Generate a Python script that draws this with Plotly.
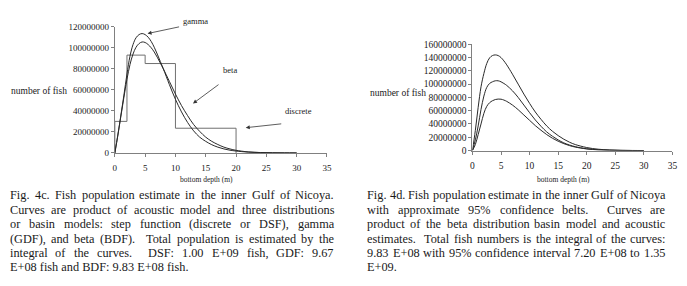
import plotly.graph_objects as go

# ---------------- data ----------------
# Fig 4c: discrete step function (depth bin edges, fish numbers per bin)
step_edges = [0, 2, 5, 10, 20]
step_values = [30e6, 93e6, 85e6, 23.5e6]

depth_c = [0, 0.5, 1, 1.5, 2, 2.5, 3, 3.5, 4, 4.5, 5, 5.5, 6, 6.5, 7, 7.5, 8,
           9, 10, 11, 12, 13, 14, 15, 16, 17, 18, 19, 20, 22, 24, 26, 28, 30]
gamma_vals = [0, 17, 36, 55, 75, 92, 103, 109.5, 112.5, 113.5, 112.5, 110, 106, 100.5, 94, 87, 80,
              65, 51, 39, 29, 21, 15, 11, 7.8, 5.5, 3.8, 2.6, 1.8, 0.8, 0.35, 0.15, 0.05, 0]
beta_vals = [0, 17, 35, 53, 70, 84, 94, 100.5, 104, 105.5, 105, 103, 100, 96, 91, 85.5, 80,
             68, 56, 45, 35.5, 27, 20.5, 15, 11, 8, 5.5, 3.8, 2.5, 1.0, 0.4, 0.12, 0.03, 0]

# Fig 4d: beta model with approximate 95% confidence belts
depth_d = [0, 0.5, 1, 1.5, 2, 2.5, 3, 3.5, 4, 4.5, 5, 5.5, 6, 7, 8, 9, 10, 11, 12, 13,
           14, 15, 16, 17, 18, 20, 22, 24, 26, 28, 30]
upper_vals = [0, 30, 65, 96, 116, 131, 139.5, 143, 144, 143, 140, 135, 129, 115, 100, 85, 71, 58, 47, 37,
              29, 22.5, 17, 12.5, 9, 4.5, 2, 0.8, 0.3, 0.1, 0]
mid_vals = [0, 16, 37, 62, 82, 95, 101, 103.5, 105, 105, 103.5, 101, 98, 90, 80, 68.5, 57, 46, 36.5, 28,
            21.5, 16, 11.5, 8.3, 5.8, 2.7, 1.1, 0.4, 0.12, 0.03, 0]
lower_vals = [0, 9, 24, 40, 56, 66.5, 72, 75, 76.8, 77.5, 77.3, 76, 74, 68.5, 61.5, 53.5, 45.5, 37.5, 30.5, 24,
              18.5, 14, 10.3, 7.4, 5.2, 2.4, 1.0, 0.4, 0.12, 0.03, 0]

x_ticks = [0, 5, 10, 15, 20, 25, 30, 35]
y_ticks_c = [0, 20e6, 40e6, 60e6, 80e6, 100e6, 120e6]
y_ticks_d = [0, 20e6, 40e6, 60e6, 80e6, 100e6, 120e6, 140e6, 160e6]

caption_c = [
    "Fig. 4c. Fish population estimate in the inner Gulf of Nicoya.",
    "Curves are product of acoustic model and three distributions",
    "or basin models: step function (discrete or DSF), gamma",
    "(GDF), and beta (BDF).  Total population is estimated by the",
    "integral of the curves.  DSF: 1.00 E+09 fish, GDF: 9.67",
    "E+08 fish and BDF: 9.83 E+08 fish.",
]
caption_d = [
    "Fig. 4d. Fish population estimate in the inner Gulf of Nicoya",
    "with approximate 95% confidence belts.  Curves are",
    "product of the beta distribution basin model and acoustic",
    "estimates.  Total fish numbers is the integral of the curves:",
    "9.83 E+08 with 95% confidence interval 7.20 E+08 to 1.35",
    "E+09.",
]

# ---------------- figure ----------------
W, H = 687, 286
FONT = "Liberation Serif"
INK = "#1a1a1a"
AX = "#808080"
M = 1e6

# Times-Roman advance widths (1/1000 em) used to justify the caption text
TW = {" ": 250, "!": 333, "%": 833, "(": 333, ")": 333, "+": 564, ",": 250, "-": 333, ".": 250, ":": 278,
      "A": 722, "B": 667, "C": 667, "D": 722, "E": 611, "F": 556, "G": 722, "H": 722, "I": 333,
      "N": 722, "S": 556, "T": 611,
      "a": 444, "b": 500, "c": 444, "d": 500, "e": 444, "f": 333, "g": 500, "h": 500, "i": 278,
      "j": 278, "k": 500, "l": 278, "m": 778, "n": 500, "o": 500, "p": 500, "q": 500, "r": 333,
      "s": 389, "t": 278, "u": 500, "v": 500, "w": 722, "x": 500, "y": 500, "z": 444}


def tw(s, size):
    return sum(TW.get(ch, 500) for ch in s) * size / 1000.0


def px(x):
    return x / W


def py(y):
    return 1 - y / H


fig = go.Figure()

sx = [step_edges[0]] + step_edges
sy = [0] + step_values + [0]
fig.add_trace(go.Scatter(x=sx, y=sy, mode="lines", line=dict(shape="hv", color="#707070", width=1),
                         xaxis="x", yaxis="y", showlegend=False))
fig.add_trace(go.Scatter(x=depth_c, y=[v * M for v in gamma_vals], mode="lines",
                         line=dict(shape="spline", color="#2a2a2a", width=1), xaxis="x", yaxis="y",
                         showlegend=False))
fig.add_trace(go.Scatter(x=depth_c, y=[v * M for v in beta_vals], mode="lines",
                         line=dict(shape="spline", color="#2a2a2a", width=1), xaxis="x", yaxis="y",
                         showlegend=False))

for vals in (upper_vals, mid_vals, lower_vals):
    fig.add_trace(go.Scatter(x=depth_d, y=[v * M for v in vals], mode="lines",
                             line=dict(shape="spline", color="#2a2a2a", width=1), xaxis="x2", yaxis="y2",
                             showlegend=False))

dom_c_x = [px(114), px(328.3)]
dom_c_y = [py(153.3), py(22.5)]
dom_d_x = [px(475.3), px(677.3)]
dom_d_y = [py(150.8), py(40.7)]

tickfont_c = dict(family=FONT, size=9, color=INK)
tickfont_d = dict(family=FONT, size=9.5, color=INK)

common_x = dict(range=[0, 35], tickvals=x_ticks, ticktext=[str(t) for t in x_ticks],
                showline=True, linecolor=AX, linewidth=1, ticks="outside", ticklen=3,
                tickcolor=AX, tickwidth=1, showgrid=False, zeroline=False, fixedrange=True,
                ticklabelstandoff=3)
common_y = dict(showline=True, linecolor=AX, linewidth=1, ticks="outside", ticklen=3,
                tickcolor=AX, tickwidth=1, showgrid=False, zeroline=False, fixedrange=True)

fig.update_layout(
    width=W, height=H, margin=dict(l=0, r=0, t=0, b=0),
    paper_bgcolor="white", plot_bgcolor="white", showlegend=False,
    xaxis=dict(domain=dom_c_x, anchor="y", tickfont=tickfont_c, **common_x),
    yaxis=dict(domain=dom_c_y, anchor="x", range=[0, 120e6], tickvals=y_ticks_c,
               ticktext=[str(int(t)) for t in y_ticks_c], tickfont=tickfont_c, **common_y),
    xaxis2=dict(domain=dom_d_x, anchor="y2", tickfont=tickfont_d, **common_x),
    yaxis2=dict(domain=dom_d_y, anchor="x2", range=[0, 160e6], tickvals=y_ticks_d,
                ticktext=[str(int(t)) for t in y_ticks_d], tickfont=tickfont_d, **common_y),
)

ann = []


def text(x, y, s, size, xanchor="center"):
    ann.append(dict(x=px(x), y=py(y), xref="paper", yref="paper", text=s, showarrow=False,
                    xanchor=xanchor, yanchor="middle", font=dict(family=FONT, size=size, color=INK)))


# axis labels
text(7, 89, "number of fish", 9.5, "left")
text(370, 91, "number of fish", 9.5, "left")
text(207, 181, "bottom depth (m)", 7.5)
text(567, 181, "bottom depth (m)", 7.5)

# series labels with arrows
text(195, 17, "gamma", 8.5)
text(230, 67, "beta", 8.5)
text(300, 110, "discrete", 8.5)
for hx, hy, ax, ay in [(5.4, 113.5e6, 33, -7), (12.9, 47e6, 27, -20), (21.6, 24e6, 37, -4)]:
    ann.append(dict(x=hx, y=hy, xref="x", yref="y", ax=ax, ay=ay, axref="pixel", ayref="pixel",
                    text="", showarrow=True, arrowhead=2, arrowsize=1, arrowwidth=0.8,
                    arrowcolor="#333333"))

# captions (justified: every line except the last one fills the column)
CAP = 12.3


def caption(lines, x0, x1, y0):
    for i, line in enumerate(lines):
        y = y0 + 15 * i
        if i == len(lines) - 1:
            text(x0, y, line, CAP, "left")
            continue
        words = line.split(" ")
        n_gaps = len(words) - 1
        natural = sum(tw(w, CAP) for w in words)
        gap = (x1 - x0 - natural) / n_gaps
        x = x0
        for w in words:
            if w:
                text(x, y, w, CAP, "left")
            x += tw(w, CAP) + gap


caption(caption_c, 6, 333, 197)
caption(caption_d, 367, 668, 197)

fig.update_layout(annotations=ann)
fig.write_html("out.html")
